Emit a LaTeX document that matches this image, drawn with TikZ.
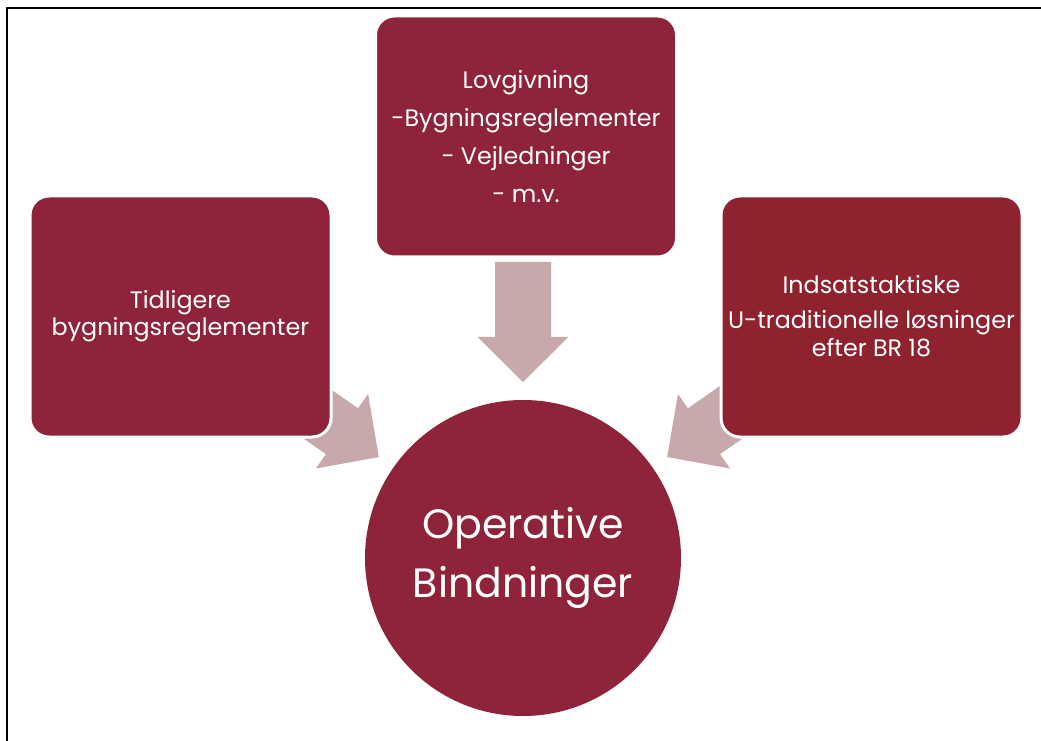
\documentclass[tikz,border=0pt]{standalone}
\usepackage{fontspec}
\setmainfont{Poppins}

\definecolor{boxred}{RGB}{142,35,57}
\definecolor{boxredb}{RGB}{143,34,47}
\definecolor{arrowpink}{RGB}{200,169,171}

\tikzset{
	box/.style={rectangle, rounded corners=19pt, fill=boxred, draw=white, line width=3pt,
		minimum width=301pt, minimum height=241pt, inner sep=0pt, text=white, align=center,
		font=\fontsize{23.8}{27}\selectfont},
	hubcircle/.style={circle, fill=boxred, minimum size=316pt, inner sep=0pt, text=white,
		align=center, font=\fontsize{41}{59}\selectfont},
	fatarrow/.pic={
		\fill[arrowpink] (0,0) -- (-45,45.5) -- (-45,28) -- (-120,28)
			-- (-120,-28) -- (-45,-28) -- (-45,-45.5) -- cycle;
	}
}

\begin{document}
\begin{tikzpicture}[x=1pt,y=1pt]

	\useasboundingbox (0,0) rectangle (1041,740);
	\clip (0,0) rectangle (1041,740);

	% frame
	\draw[line width=2pt] (6.5,-10) -- (6.5,732) -- (1060,732);

	% centre
	\node[hubcircle] (hub) at (523,182) {Operative\\Bindninger};

	% arrows
	\pic[rotate=-90] at ([shift={(90:176)}]hub.center) {fatarrow};
	\pic[rotate=-35] at ([shift={(145:176)}]hub.center) {fatarrow};
	\pic[rotate=215] at ([shift={(35:176)}]hub.center) {fatarrow};

	% boxes
	\node[box, font=\fontsize{23.8}{38}\selectfont] (lov) at (526,603.5)
		{Lovgivning\\-Bygningsreglementer\\- Vejledninger\\- m.v.};
	\node[box] (tidl) at (180.5,423.5) {Tidligere\\bygningsreglementer};
	\node[box, fill=boxredb, font=\fontsize{23.8}{28}\selectfont] (indsats) at (871.5,423.5)
		{Indsatstaktiske\\[7pt]U-traditionelle løsninger\\efter BR 18};

\end{tikzpicture}
\end{document}
